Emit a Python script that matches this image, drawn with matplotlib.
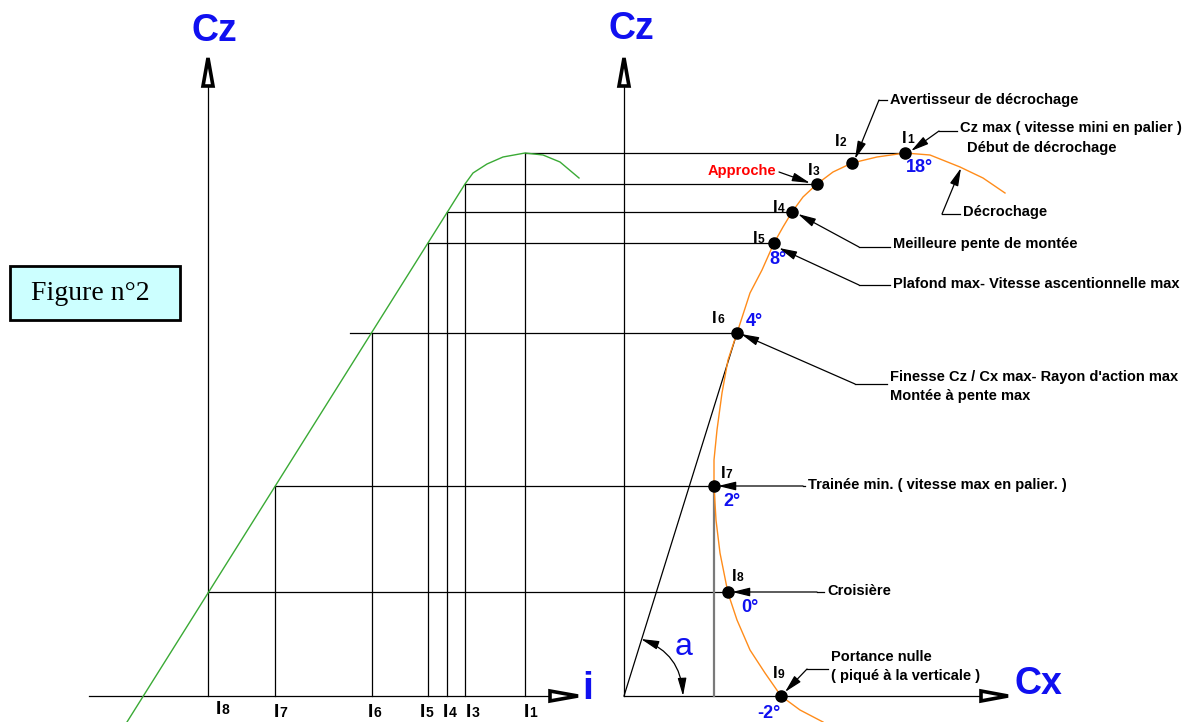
import matplotlib
matplotlib.use("Agg")
import matplotlib.pyplot as plt
from matplotlib.patches import Polygon, Rectangle

plt.rcParams['font.family'] = ['Liberation Sans', 'DejaVu Sans']

# ---- data (pixel units of the sketch) ----
# polar curve Cz = f(Cx) : points I1..I9
pt_names = ["1", "2", "3", "4", "5", "6", "7", "8", "9"]
pt_cx = [905, 852, 817, 792, 774, 737, 714, 728, 781]
pt_cz = [153, 163, 184, 212, 243, 333, 486, 592, 696]
pt_deg = ["18°", "", "", "", "8°", "4°", "2°", "0°", "-2°"]

# orange polar curve
polar_cx = [823, 800, 781, 765, 750, 737, 728, 720, 716, 714, 714, 717, 722, 728,
            737, 750, 762, 774, 783, 792, 803, 817, 833, 852, 877, 905, 930, 960,
            983, 1005]
polar_cz = [722, 710, 696, 673, 650, 620, 593, 553, 520, 486, 460, 430, 393, 360,
            333, 293, 270, 243, 227, 212, 197, 184, 172, 163, 157, 153, 155, 167,
            178, 193]

# green lift curve Cz = f(i)
lift_i = [127, 465, 473, 487, 503, 525, 543, 560, 579]
lift_cz = [722, 184, 173, 164, 157, 153, 155, 162, 178]

# incidences projected on the i axis
inc_names = ["1", "3", "4", "5", "6", "7", "8"]
inc_i = [525, 465, 447, 427.5, 371.6, 275, 208]
inc_cz = [153, 184, 212, 243, 333, 486, 592]
inc_cx = [905, 817, 792, 774, 737, 714, 728]
hline_from = [525, 465, 447, 427.5, 350, 275, 208]

# annotations : text, text position, elbow, arrow target
notes = [
    (["Avertisseur de décrochage"], (890, 100), (879, 100), (855, 159)),
    (["Cz max ( vitesse mini en palier )"], (960, 128), (939, 131), (911, 151)),
    (["Décrochage"], (963, 212), (942, 214), (961, 168)),
    (["Meilleure pente de montée"], (893, 244), (859, 247), (798, 214)),
    (["Plafond max- Vitesse ascentionnelle max"], (893, 284), (859, 285), (779, 248)),
    (["Finesse Cz / Cx max- Rayon d'action max", "Montée à pente max"],
     (890, 377), (855, 384), (741, 334)),
    (["Trainée min. ( vitesse max en palier. )"], (808, 485), (803, 486), (718, 486)),
    (["Croisière"], (827, 591), (817, 592), (732, 592)),
    (["Portance nulle", "( piqué à la verticale )"], (831, 657), (807, 669), (785, 692)),
]

# label layout
ptlab_xy = [(902, 143), (835, 146), (808, 175), (773, 212), (753, 243),
            (712, 323), (721, 478), (732, 581), (773, 678)]
deg_xy = [(906, 167), None, None, None, (769, 260), (746, 322), (723, 502),
          (741, 607), (757, 713)]
inclab_xy = [(523.5, 717), (466, 717), (443, 717), (420, 717), (368, 717),
             (274, 717), (216, 714)]

BLUE = '#1010f0'
ORANGE = '#ff8c1a'
GREEN = '#3aaa35'
LW = 0.9

fig = plt.figure(figsize=(11.84, 7.22), dpi=100)
ax = fig.add_axes([0, 0, 1, 1])
ax.set_xlim(0, 1184)
ax.set_ylim(722, 0)
ax.axis('off')


def ilabel(x, y, d, fs):
    ax.text(x, y, "I", fontsize=fs, fontweight='bold', va='baseline', ha='left')
    ax.annotate(d, xy=(x, y), xytext=(fs * 0.3, 0), textcoords='offset points',
                fontsize=fs * 0.72, fontweight='bold', va='baseline', ha='left')


def arrowhead(tip, base, half):
    # hollow elongated arrow head of the axes
    tx, ty = tip
    bx, by = base
    if tx == bx:
        pts = [(bx - half, by), (tx, ty), (bx + half, by)]
    else:
        pts = [(bx, by - half), (tx, ty), (bx, by + half)]
    ax.add_patch(Polygon(pts, closed=True, fc='white', ec='black', lw=2.6,
                         joinstyle='miter', zorder=5))


# ---- axes ----
ax.plot([208, 208], [87, 696], color='black', lw=LW)
ax.plot([89, 549], [696, 696], color='black', lw=LW)
ax.plot([624, 624], [87, 696], color='black', lw=LW)
ax.plot([624, 980], [696, 696], color='black', lw=LW)
arrowhead((208, 58), (208, 86), 5)
arrowhead((624, 58), (624, 86), 5)
arrowhead((578, 696), (550, 696), 5)
arrowhead((1008, 696), (981, 696), 5)

ax.text(214, 31, "Cz", color=BLUE, fontsize=27, fontweight='bold', ha='center', va='center')
ax.text(631, 29, "Cz", color=BLUE, fontsize=27, fontweight='bold', ha='center', va='center')
ax.text(1038, 684, "Cx", color=BLUE, fontsize=27, fontweight='bold', ha='center', va='center')
ax.text(582, 699, "i", color=BLUE, fontsize=28, fontweight='bold', ha='left', va='baseline')

# ---- projection lines ----
for k in range(len(inc_i)):
    ax.plot([hline_from[k], inc_cx[k]], [inc_cz[k], inc_cz[k]], color='black', lw=LW)
    if inc_i[k] != 208:
        ax.plot([inc_i[k], inc_i[k]], [inc_cz[k], 696], color='black', lw=LW)
    ilabel(inclab_xy[k][0], inclab_xy[k][1], inc_names[k], 14)

# Cx of I7 down to the axis, and tangent from the origin to I6
ax.plot([714, 714], [486, 696], color='#7a7a7a', lw=1.6)
ax.plot([624, pt_cx[5]], [696, pt_cz[5]], color='black', lw=LW)

# ---- curves ----
ax.plot(lift_i, lift_cz, color=GREEN, lw=1.0)
ax.plot(polar_cx, polar_cz, color=ORANGE, lw=1.0)
ax.plot(pt_cx, pt_cz, 'o', color='black', ms=8, zorder=6)

for k in range(len(pt_names)):
    ilabel(ptlab_xy[k][0], ptlab_xy[k][1], pt_names[k], 12)
    if pt_deg[k]:
        ax.text(deg_xy[k][0], deg_xy[k][1], pt_deg[k], color=BLUE, fontsize=13,
                fontweight='bold', ha='left', va='center')

# ---- annotations ----
aprops = dict(arrowstyle='-|>,head_length=0.9,head_width=0.22', color='black',
              lw=LW, shrinkA=0, shrinkB=0, mutation_scale=12)
for lines, txy, elbow, target in notes:
    for j, s in enumerate(lines):
        ax.text(txy[0], txy[1] + j * 19, s, fontsize=10.5, fontweight='bold',
                ha='left', va='center')
    if elbow[0] + 4 < txy[0]:
        ax.plot([elbow[0], txy[0] - 3], [elbow[1], elbow[1]], color='black', lw=LW)
    ax.annotate("", xy=target, xytext=elbow, arrowprops=aprops)

ax.text(967, 148, "Début de décrochage", fontsize=10.5, fontweight='bold', ha='left', va='center')

ax.text(776, 171, "Approche", color='red', fontsize=10.5, fontweight='bold', ha='right', va='center')
ax.annotate("", xy=(810, 183), xytext=(779, 172), arrowprops=aprops)

# angle a
ax.annotate("", xy=(683, 696), xytext=(641, 639),
            arrowprops=dict(arrowstyle='<|-|>,head_length=0.9,head_width=0.22',
                            color='black', lw=LW, shrinkA=0, shrinkB=0,
                            mutation_scale=12, connectionstyle='arc3,rad=-0.33'))
ax.text(684, 647, "a", color=BLUE, fontsize=23, ha='center', va='center')

# figure tag
ax.add_patch(Rectangle((10, 266), 170, 54, fc='#ccffff', ec='black', lw=2))
ax.text(31, 293, "Figure n°2", family='Liberation Serif', fontsize=20, ha='left', va='center')

fig.savefig("out.png", dpi=100)
